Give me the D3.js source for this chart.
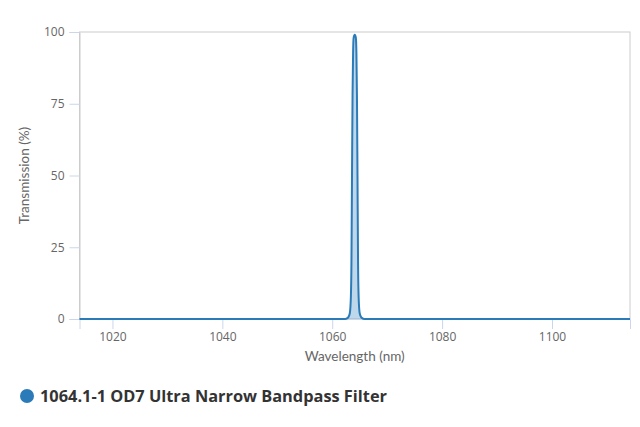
<!DOCTYPE html>
<html>
<head>
<meta charset="utf-8">
<script src="https://cdn.jsdelivr.net/npm/d3@7"></script>
<style>
	body { margin: 0; background: #fff; }
	svg { display: block; }
	.tick text { fill: #666; font-family: 'Open Sans', sans-serif; font-size: 12px; }
	.ttl { fill: #666; font-family: Lato, sans-serif; font-size: 13.5px; }
	.legend { fill: #333; font-family: 'Open Sans', sans-serif; font-weight: bold; font-size: 15.5px; }
</style>
</head>
<body>
<div id="chart"></div>
<script>
'use strict';

// measured transmission curve (nm, %)
let wavelength = [1014, 1062.4, 1062.9, 1063.2, 1063.4, 1063.5, 1063.6, 1063.7, 1063.8, 1063.9, 1064.1, 1064.3, 1064.4, 1064.5, 1064.6, 1064.7, 1064.8, 1065.0, 1065.3, 1065.8, 1114.2];
let transmission = [0, 0, 0.5, 2, 8, 20, 50, 78, 93, 98, 99, 98, 93, 78, 50, 20, 8, 2, 0.5, 0, 0];

let xTicks = [1020, 1040, 1060, 1080, 1100];
let yTicks = [0, 25, 50, 75, 100];
let seriesName = '1064.1-1 OD7 Ultra Narrow Bandpass Filter';

let W = 640, H = 427;
let m = {left: 79.5, right: 10, top: 32, bottom: 108};

let svg = d3.select('#chart')
	.append('svg')
		.attr('width', W)
		.attr('height', H)
	;

let x = d3.scaleLinear().domain([1014, 1114.2]).range([m.left, W - m.right]);
let y = d3.scaleLinear().domain([0, 100]).range([H - m.bottom, m.top]);

let pts = wavelength.map(function(w, i) { return [w, transmission[i]]; });

// plot border
svg.append('rect')
	.attr('x', m.left)
	.attr('y', m.top)
	.attr('width', W - m.right - m.left)
	.attr('height', H - m.bottom - m.top)
	.attr('fill', 'none')
	.attr('stroke', '#cccccc')
	.attr('stroke-width', 1)
	;

let xa = svg.append('g')
	.attr('transform', 'translate(0,' + (H - m.bottom) + ')')
	.call(d3.axisBottom(x).tickValues(xTicks).tickSize(10).tickPadding(3).tickFormat(d3.format('d')))
	;
xa.select('.domain').attr('stroke', '#ccd6eb');
xa.selectAll('.tick line').attr('stroke', '#ccd6eb');

let ya = svg.append('g')
	.attr('transform', 'translate(' + m.left + ',0)')
	.call(d3.axisLeft(y).tickValues(yTicks).tickSize(10).tickPadding(5))
	;
ya.select('.domain').attr('stroke', '#cccccc');
ya.selectAll('.tick line').attr('stroke', '#ccd6eb');

svg.append('path')
	.datum(pts)
	.attr('fill', '#2b7bb9')
	.attr('fill-opacity', 0.3)
	.attr('d', d3.area()
		.x(function(d) { return x(d[0]); })
		.y0(y(0))
		.y1(function(d) { return y(d[1]); })
		.curve(d3.curveMonotoneX))
	;

svg.append('path')
	.datum(pts)
	.attr('fill', 'none')
	.attr('stroke', '#2b7bb9')
	.attr('stroke-width', 2)
	.attr('d', d3.line()
		.x(function(d) { return x(d[0]); })
		.y(function(d) { return y(d[1]); })
		.curve(d3.curveMonotoneX))
	;

// axis titles
svg.append('text')
	.classed('ttl', true)
	.attr('x', (m.left + W - m.right) / 2)
	.attr('y', 361)
	.attr('text-anchor', 'middle')
	.text('Wavelength (nm)')
	;
svg.append('text')
	.classed('ttl', true)
	.attr('transform', 'translate(29,' + ((m.top + H - m.bottom) / 2) + ') rotate(-90)')
	.attr('text-anchor', 'middle')
	.text('Transmission (%)')
	;

// legend
svg.append('circle')
	.attr('cx', 27)
	.attr('cy', 396)
	.attr('r', 7)
	.attr('fill', '#2b7bb9')
	;
svg.append('text')
	.classed('legend', true)
	.attr('x', 40)
	.attr('y', 402)
	.attr('textLength', 347)
	.attr('lengthAdjust', 'spacingAndGlyphs')
	.text(seriesName)
	;
</script>
</body>
</html>
